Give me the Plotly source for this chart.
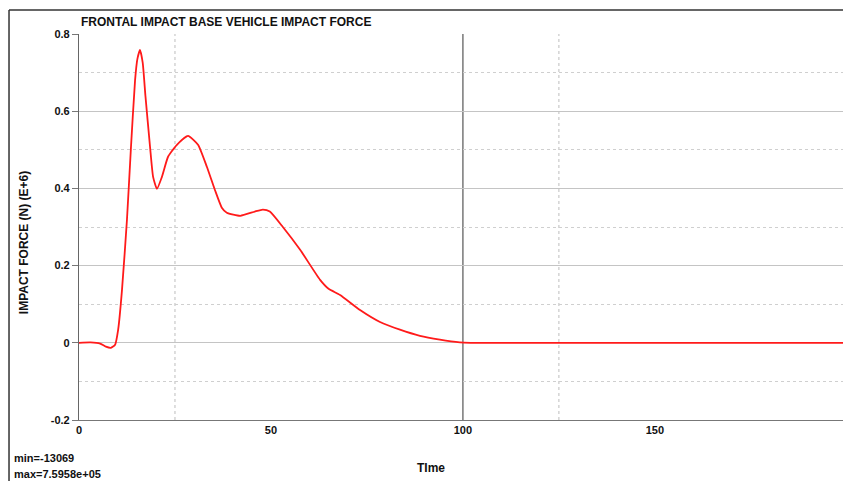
import plotly.graph_objects as go

# Data (Time vs impact force in E+6 N)
time = [0, 3, 5.5, 7, 8.3, 9.4, 10.2, 11.2, 12.5, 13.5, 14.6, 15.2, 15.9, 16.6, 17.3, 18.5, 19.3, 20.3,
        21.6, 23.2, 25.5, 28.4, 31, 33.3, 35.4, 37.2, 38.5, 42, 45.8, 47.9, 49.7, 53.1, 57.6, 62.8,
        65, 68, 73.2, 78.4, 83.6, 88.8, 94, 99.2, 102, 150, 199]
force = [0, 0.001, -0.002, -0.01, -0.013, -0.005, 0.034, 0.137, 0.32, 0.5, 0.68, 0.735, 0.759, 0.725, 0.64,
         0.508, 0.43, 0.399, 0.43, 0.482, 0.513, 0.536, 0.513, 0.456, 0.396, 0.35, 0.337, 0.329, 0.34,
         0.345, 0.34, 0.30, 0.241, 0.163, 0.14, 0.124, 0.085, 0.054, 0.034, 0.018, 0.008, 0.001, 0, 0, 0]

y_ticks = [-0.2, 0, 0.2, 0.4, 0.6, 0.8]
y_labels = ["-0.2", "0", "0.2", "0.4", "0.6", "0.8"]
x_ticks = [0, 50, 100, 150]
x_labels = ["0", "50", "100", "150"]
v_dotted = [25, 125]
v_solid = [100]

FONT = "Liberation Sans, Arial, sans-serif"

fig = go.Figure()
fig.add_trace(go.Scatter(x=time, y=force, mode="lines",
                         line=dict(color="#ff1a1a", width=1.8, shape="spline", smoothing=0.5),
                         hoverinfo="skip", showlegend=False))

shapes = []
for xv in v_dotted:
    shapes.append(dict(type="line", xref="x", yref="paper", x0=xv, x1=xv, y0=0, y1=1,
                       line=dict(color="#bdbdbd", width=1, dash="dot"), layer="below"))
for xv in v_solid:
    shapes.append(dict(type="line", xref="x", yref="paper", x0=xv, x1=xv, y0=0, y1=1,
                       line=dict(color="#555555", width=1.2), layer="below"))
# outer frame (top and left)
shapes.append(dict(type="line", xref="paper", yref="paper", x0=-0.0916, x1=1.0, y0=1.0622, y1=1.0622,
                   line=dict(color="#333333", width=1.5)))
shapes.append(dict(type="line", xref="paper", yref="paper", x0=-0.0916, x1=-0.0916, y0=1.0622, y1=-0.2,
                   line=dict(color="#333333", width=1.5)))

annotations = [
    dict(text="<b>FRONTAL IMPACT BASE VEHICLE IMPACT FORCE</b>", xref="paper", yref="paper",
         x=0.0, y=1.008, xanchor="left", yanchor="bottom", showarrow=False,
         font=dict(family=FONT, size=12, color="#111111")),
    dict(text="<b>IMPACT FORCE (N) (E+6)</b>", xref="paper", yref="paper", textangle=-90,
         x=-0.071, y=0.46, xanchor="center", yanchor="middle", showarrow=False,
         font=dict(family=FONT, size=12, color="#111111")),
    dict(text="<b>TIme</b>", xref="paper", yref="paper", x=0.461, y=-0.125,
         xanchor="center", yanchor="middle", showarrow=False,
         font=dict(family=FONT, size=12, color="#111111")),
    dict(text="<b>min=-13069</b>", xref="paper", yref="paper", x=-0.088, y=-0.098,
         xanchor="left", yanchor="middle", showarrow=False,
         font=dict(family=FONT, size=11, color="#111111")),
    dict(text="<b>max=7.5958e+05</b>", xref="paper", yref="paper", x=-0.088, y=-0.14,
         xanchor="left", yanchor="middle", showarrow=False,
         font=dict(family=FONT, size=11, color="#111111")),
]

fig.update_layout(
    width=843, height=481,
    margin=dict(l=79, r=0, t=34, b=61),
    paper_bgcolor="white", plot_bgcolor="white",
    shapes=shapes, annotations=annotations,
    xaxis=dict(range=[0, 199], tickvals=x_ticks, ticktext=x_labels, showgrid=False, zeroline=False,
               showline=True, linecolor="#777777", linewidth=1.2, ticks="",
               tickfont=dict(family=FONT, size=11, color="#111111", weight="bold"), fixedrange=True),
    yaxis=dict(range=[-0.2, 0.8], tickvals=y_ticks, ticktext=y_labels, showgrid=True,
               gridcolor="#c4c4c4", gridwidth=1, zeroline=False,
               showline=True, linecolor="#666666", linewidth=1.2, ticks="outside", ticklen=6,
               tickcolor="#777777", tickfont=dict(family=FONT, size=11, color="#111111", weight="bold"),
               minor=dict(dtick=0.1, showgrid=True, gridcolor="#cfcfcf", griddash="dot", gridwidth=1),
               fixedrange=True),
)

fig.write_html("out.html")
